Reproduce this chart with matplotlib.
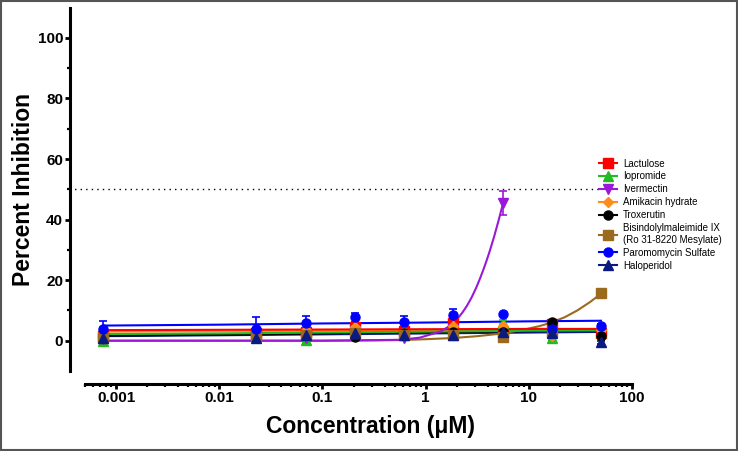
import matplotlib.pyplot as plt
import numpy as np
from matplotlib.lines import Line2D
from matplotlib.patches import Rectangle
from matplotlib.ticker import FixedLocator, LogLocator

plt.rcParams['font.family'] = ['Liberation Sans', 'DejaVu Sans']
plt.rcParams['font.weight'] = 'bold'

# concentrations (uM), 3-fold dilution series
conc = [0.00075, 0.0229, 0.0686, 0.206, 0.617, 1.85, 5.56, 16.7, 50]

names = ['Lactulose', 'Iopromide', 'Ivermectin', 'Amikacin hydrate', 'Troxerutin',
         'Bisindolylmaleimide IX\n(Ro 31-8220 Mesylate)', 'Paromomycin Sulfate', 'Haloperidol']
colors = ['#ff0000', '#22bb22', '#9b19d6', '#ff8c1a', '#000000', '#9a6a1e', '#0000ff', '#0a1a80']
markers = ['s', '^', 'v', 'D', 'o', 's', 'o', '^']

# mean percent inhibition at each concentration
lactulose = [1.7, 2.5, 3.0, 4.4, 3.3, 6.0, 2.8, 5.5, 2.5]
iopromide = [0.0, 1.5, 0.3, 3.5, 2.5, 2.8, 6.0, 1.0, 3.0]
ivermectin = [0.5, 1.5, 1.0, 3.1, 1.0, 4.0, 45.5]
amikacin = [2.5, 3.0, 3.5, 4.5, 3.0, 5.0, 5.0, 1.5, 3.5]
troxerutin = [1.0, 1.2, 2.0, 1.3, 2.5, 3.0, 3.0, 6.3, 1.5]
bisindolyl = [1.0, 1.5, 2.0, 2.5, 2.0, 2.0, 1.2, 3.0, 15.7]
paromomycin = [3.9, 4.0, 5.7, 7.7, 6.1, 8.5, 8.8, 3.9, 5.0]
haloperidol = [1.0, 1.0, 2.0, 2.5, 2.0, 2.0, 3.0, 2.5, -0.5]

# error bars (SD)
lactulose_err = [0.8, 0.8, 0.8, 0.8, 0.8, 0.8, 0.8, 0.8, 0.8]
iopromide_err = [0.6, 0.6, 0.6, 0.8, 0.6, 2.5, 0.8, 1.0, 0.6]
ivermectin_err = [0.5, 0.5, 0.5, 0.8, 0.5, 0.8, 4.0]
amikacin_err = [0.6, 0.6, 0.6, 0.6, 0.6, 0.6, 0.6, 1.0, 0.6]
troxerutin_err = [0.6, 0.6, 0.6, 0.6, 0.6, 2.8, 0.6, 0.6, 0.6]
bisindolyl_err = [0.5, 0.5, 0.5, 0.5, 0.5, 0.5, 0.5, 0.5, 0.5]
paromomycin_err = [2.5, 3.7, 2.6, 1.6, 2.2, 2.0, 0.5, 1.5, 0.5]
haloperidol_err = [0.5, 0.5, 0.5, 0.5, 0.5, 0.5, 0.5, 0.5, 0.5]

# fitted curves
flat_x = [0.00075, 0.01, 0.1, 1, 10, 50]
lactulose_fit = [3.5, 3.6, 3.7, 3.8, 3.9, 3.9]
iopromide_fit = [2.2, 2.4, 2.7, 3.0, 3.3, 3.4]
amikacin_fit = [3.0, 3.1, 3.3, 3.5, 3.7, 3.8]
troxerutin_fit = [1.7, 2.0, 2.4, 2.8, 3.2, 3.4]
paromomycin_fit = [5.0, 5.3, 5.7, 6.0, 6.4, 6.6]
haloperidol_fit = [1.5, 1.8, 2.1, 2.4, 2.7, 2.9]
ivermectin_fit_x = [0.00075, 0.1, 0.56, 0.875, 1.38, 1.70, 1.86, 2.04, 2.26, 2.51, 2.79,
                    3.09, 3.35, 3.63, 3.89, 4.17, 4.62, 5.07, 5.62]
ivermectin_fit = [0.0, 0.0, 0.3, 1.0, 3.0, 4.8, 6.0, 7.3, 9.2, 11.5, 14.3,
                  17.5, 20.4, 23.5, 26.4, 29.5, 34.5, 39.5, 45.3]
bisindolyl_fit_x = [0.00075, 0.1, 0.316, 0.631, 1.0, 1.86, 3.16, 5.56, 9.33, 12.6,
                    16.6, 22.4, 29.5, 38.9, 50]
bisindolyl_fit = [0.0, 0.0, 0.1, 0.25, 0.5, 0.9, 1.5, 2.4, 3.8, 4.8,
                  6.0, 7.8, 10.0, 12.7, 15.5]

means = [lactulose, iopromide, ivermectin, amikacin, troxerutin, bisindolyl, paromomycin, haloperidol]
errs = [lactulose_err, iopromide_err, ivermectin_err, amikacin_err, troxerutin_err,
        bisindolyl_err, paromomycin_err, haloperidol_err]
fits = [(flat_x, lactulose_fit), (flat_x, iopromide_fit), (ivermectin_fit_x, ivermectin_fit),
        (flat_x, amikacin_fit), (flat_x, troxerutin_fit), (bisindolyl_fit_x, bisindolyl_fit),
        (flat_x, paromomycin_fit), (flat_x, haloperidol_fit)]
curve_order = [7, 4, 5, 3, 1, 0, 2, 6]

fig = plt.figure(figsize=(7.38, 4.51), dpi=100)
ax = fig.add_axes([0.1152, 0.1774, 0.7412, 0.8056])

for i in curve_order:
    fx, fy = fits[i]
    ax.plot(fx, fy, color=colors[i], lw=1.5, zorder=2)
for i in range(len(names)):
    n = len(means[i])
    ms = 5.5 if markers[i] == 'D' else 6.5
    ax.errorbar(conc[:n], means[i], yerr=errs[i], fmt=markers[i], color=colors[i],
                ms=ms, capsize=3, elinewidth=1.2, capthick=1.2, zorder=3)

ax.axhline(50, xmin=-0.03, xmax=0.938, color='black', lw=1, linestyle=(0, (1, 3)), clip_on=False)

ax.set_xscale('log')
ax.set_xlim(0.0005, 100)
ax.set_ylim(-10, 110)

for s in ['top', 'right']:
    ax.spines[s].set_visible(False)
ax.spines['left'].set_position(('outward', 10.8))
ax.spines['bottom'].set_position(('outward', 9.4))
ax.spines['left'].set_linewidth(2.2)
ax.spines['bottom'].set_linewidth(2.2)

ax.set_yticks([0, 20, 40, 60, 80, 100])
ax.yaxis.set_minor_locator(FixedLocator([10, 30, 50, 70, 90]))
ax.set_xticks([0.001, 0.01, 0.1, 1, 10, 100])
ax.set_xticklabels(['0.001', '0.01', '0.1', '1', '10', '100'])
ax.xaxis.set_minor_locator(LogLocator(base=10, subs=np.arange(2, 10), numticks=20))
ax.tick_params(which='major', length=3.5, width=2, labelsize=11, pad=1.5)
ax.tick_params(which='minor', length=2.5, width=1.6)

ax.set_xlabel('Concentration (\u03bcM)', fontsize=16.5, fontweight='bold')
ax.xaxis.set_label_coords(0.521, -0.12)
ax.set_ylabel('Percent Inhibition', fontsize=16.5, fontweight='bold', labelpad=2)

handles = [Line2D([], [], color=colors[i], marker=markers[i], lw=1.5,
                  ms=5 if markers[i] == 'D' else 6.5) for i in range(len(names))]
fig.legend(handles, names, loc='upper left', bbox_to_anchor=(0.807, 0.657), frameon=False,
           prop={'size': 7, 'weight': 'normal'}, handlelength=1.8, handletextpad=0.6,
           labelspacing=0.3, borderaxespad=0)

fig.patches.append(Rectangle((0.001, 0.002), 0.997, 0.996, transform=fig.transFigure,
                             fill=False, edgecolor='#555555', lw=1.5))

plt.savefig('out.png', dpi=100)
